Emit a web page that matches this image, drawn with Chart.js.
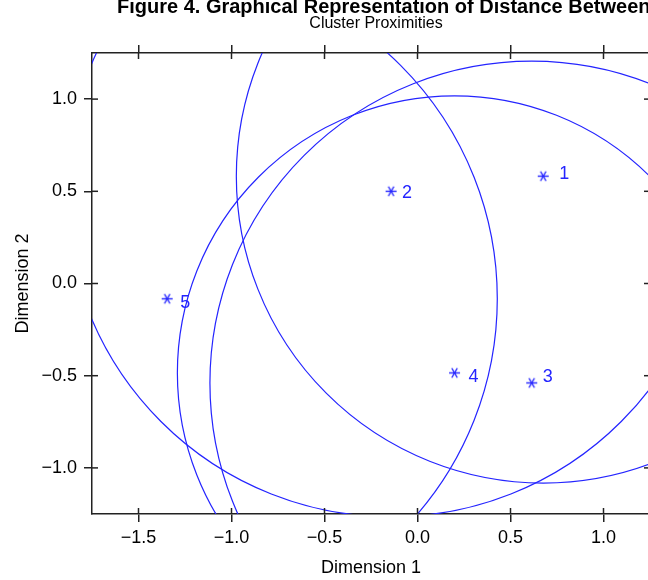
<!DOCTYPE html>
<html lang="en">
<head>
    <meta charset="UTF-8">
    <title>Cluster Proximities</title>
    <script src="https://cdn.jsdelivr.net/npm/chart.js"></script>
    <style>
        html, body {
            margin: 0;
            padding: 0;
            background: #fff;
            overflow: hidden;
        }
        #wrap {
            width: 660px;
            height: 580px;
        }
    </style>
</head>
<body>
    <div id="wrap"><canvas id="myChart" width="660" height="580"></canvas></div>
    <script>
        // cluster means on the two dimensions + circle radius (cluster size)
        const clusterIds = ['1', '2', '3', '4', '5'];
        const dim1 = [0.676, -0.142, 0.614, 0.199, -1.346];
        const dim2 = [0.582, 0.500, -0.539, -0.485, -0.083];
        const clusterRadius = [1.65, 1.75, 1.73, 1.49, 1.775];
        const xTicks = [-1.5, -1.0, -0.5, 0.0, 0.5, 1.0];
        const yTicks = [-1.0, -0.5, 0.0, 0.5, 1.0];

        const markColor = '#2424ff';
        const axisColor = '#222';
        Chart.defaults.font.family = '"Liberation Sans", Arial, sans-serif';
        Chart.defaults.color = '#000';

        function tickFmt(v) {
            return v.toFixed(1).replace('-', '\u2212');
        }

        // asterisk marker
        function makeStar() {
            const c = document.createElement('canvas');
            c.width = 13;
            c.height = 13;
            const g = c.getContext('2d');
            g.strokeStyle = markColor;
            g.lineWidth = 1.4;
            [0, 60, 120].forEach(a => {
                const r = a * Math.PI / 180;
                const dx = Math.cos(r) * 5.5, dy = Math.sin(r) * 5.5;
                g.beginPath();
                g.moveTo(6.5 - dx, 6.5 - dy);
                g.lineTo(6.5 + dx, 6.5 + dy);
                g.stroke();
            });
            return c;
        }

        const circlePlugin = {
            id: 'circles',
            beforeDatasetsDraw(chart) {
                const {ctx, chartArea: a, scales: {x, y}} = chart;
                ctx.save();
                ctx.beginPath();
                ctx.rect(a.left, a.top, a.right - a.left, a.bottom - a.top);
                ctx.clip();
                ctx.strokeStyle = markColor;
                ctx.lineWidth = 1.2;
                dim1.forEach((cx, i) => {
                    const px = x.getPixelForValue(cx);
                    const py = y.getPixelForValue(dim2[i]);
                    const rad = x.getPixelForValue(cx + clusterRadius[i]) - px;
                    ctx.beginPath();
                    ctx.arc(px, py, rad, 0, Math.PI * 2);
                    ctx.stroke();
                });
                ctx.restore();
            }
        };

        const labelPlugin = {
            id: 'ptLabels',
            afterDatasetsDraw(chart, args, opts) {
                const {ctx} = chart;
                const meta = chart.getDatasetMeta(0);
                ctx.save();
                ctx.fillStyle = markColor;
                ctx.font = '18px "Liberation Sans", Arial, sans-serif';
                ctx.textAlign = 'center';
                ctx.textBaseline = 'middle';
                meta.data.forEach((pt, i) => {
                    const n = opts.nudge[i];
                    ctx.fillText(clusterIds[i], pt.x + n[0], pt.y + n[1]);
                });
                ctx.restore();
            }
        };

        // ticks also poke into the plot area
        const innerTicks = {
            id: 'innerTicks',
            afterDraw(chart) {
                const {ctx, chartArea: a, scales} = chart;
                ctx.save();
                ctx.strokeStyle = axisColor;
                ctx.lineWidth = 1.5;
                ['x', 'x2', 'y', 'y2'].forEach(id => {
                    const s = scales[id];
                    s.ticks.forEach(t => {
                        const p = s.getPixelForValue(t.value);
                        ctx.beginPath();
                        if (id === 'x') { ctx.moveTo(p, a.bottom); ctx.lineTo(p, a.bottom - 6); }
                        if (id === 'x2') { ctx.moveTo(p, a.top); ctx.lineTo(p, a.top + 6); }
                        if (id === 'y') { ctx.moveTo(a.left, p); ctx.lineTo(a.left + 6, p); }
                        if (id === 'y2') { ctx.moveTo(a.right, p); ctx.lineTo(a.right - 6, p); }
                        ctx.stroke();
                    });
                });
                ctx.restore();
            }
        };

        const header = {
            id: 'header',
            afterDraw(chart) {
                const {ctx} = chart;
                ctx.save();
                ctx.fillStyle = '#000';
                ctx.textBaseline = 'alphabetic';
                ctx.font = 'bold 20px "Liberation Sans", Arial, sans-serif';
                ctx.textAlign = 'left';
                ctx.fillText('Figure 4. Graphical Representation of Distance Between Clusters', 117, 13);
                ctx.font = '16px "Liberation Sans", Arial, sans-serif';
                ctx.textAlign = 'center';
                ctx.fillText('Cluster Proximities', 376, 28);
                ctx.restore();
            }
        };

        function sideAxis(pos, lo, hi, ticks, size) {
            return {
                type: 'linear',
                position: pos,
                min: lo,
                max: hi,
                afterBuildTicks: s => { s.ticks = ticks.map(v => ({value: v})); },
                afterFit: s => {
                    if (pos === 'top' || pos === 'bottom') s.height = size;
                    else s.width = size;
                },
                ticks: {display: false},
                grid: {drawOnChartArea: false, tickLength: 8, color: axisColor, lineWidth: 1.5},
                border: {color: axisColor, width: 1.5}
            };
        }

        const ctx = document.getElementById('myChart').getContext('2d');
        const myChart = new Chart(ctx, {
            type: 'scatter',
            data: {
                datasets: [{
                    data: dim1.map((v, i) => ({x: v, y: dim2[i]})),
                    pointStyle: makeStar(),
                    pointRadius: 6
                }]
            },
            options: {
                responsive: false,
                animation: false,
                events: [],
                layout: {padding: 0},
                plugins: {
                    legend: {display: false},
                    tooltip: {enabled: false},
                    ptLabels: {nudge: [[21, -2], [16, 2], [16, -6], [19, 4], [18, 4]]}
                },
                scales: {
                    x: {
                        type: 'linear',
                        position: 'bottom',
                        min: -1.75,
                        max: 1.25,
                        afterBuildTicks: s => { s.ticks = xTicks.map(v => ({value: v})); },
                        afterFit: s => { s.height = 66; },
                        ticks: {callback: tickFmt, font: {size: 18}, padding: 5, maxRotation: 0, autoSkip: false},
                        grid: {drawOnChartArea: false, tickLength: 8, color: axisColor, lineWidth: 1.5},
                        border: {color: axisColor, width: 1.5},
                        title: {display: true, text: 'Dimension 1', font: {size: 18}, padding: {top: 0, bottom: 1}}
                    },
                    x2: sideAxis('top', -1.75, 1.25, xTicks, 53),
                    y: {
                        type: 'linear',
                        position: 'left',
                        min: -1.25,
                        max: 1.25,
                        afterBuildTicks: s => { s.ticks = yTicks.map(v => ({value: v})); },
                        afterFit: s => { s.width = 92; },
                        ticks: {callback: tickFmt, font: {size: 18}, padding: 7, autoSkip: false},
                        grid: {drawOnChartArea: false, tickLength: 8, color: axisColor, lineWidth: 1.5},
                        border: {color: axisColor, width: 1.5},
                        title: {display: true, text: 'Dimension 2', font: {size: 18}, padding: {top: 12, bottom: 0}}
                    },
                    y2: sideAxis('right', -1.25, 1.25, yTicks, 10)
                }
            },
            plugins: [circlePlugin, labelPlugin, innerTicks, header]
        });
    </script>
</body>
</html>
